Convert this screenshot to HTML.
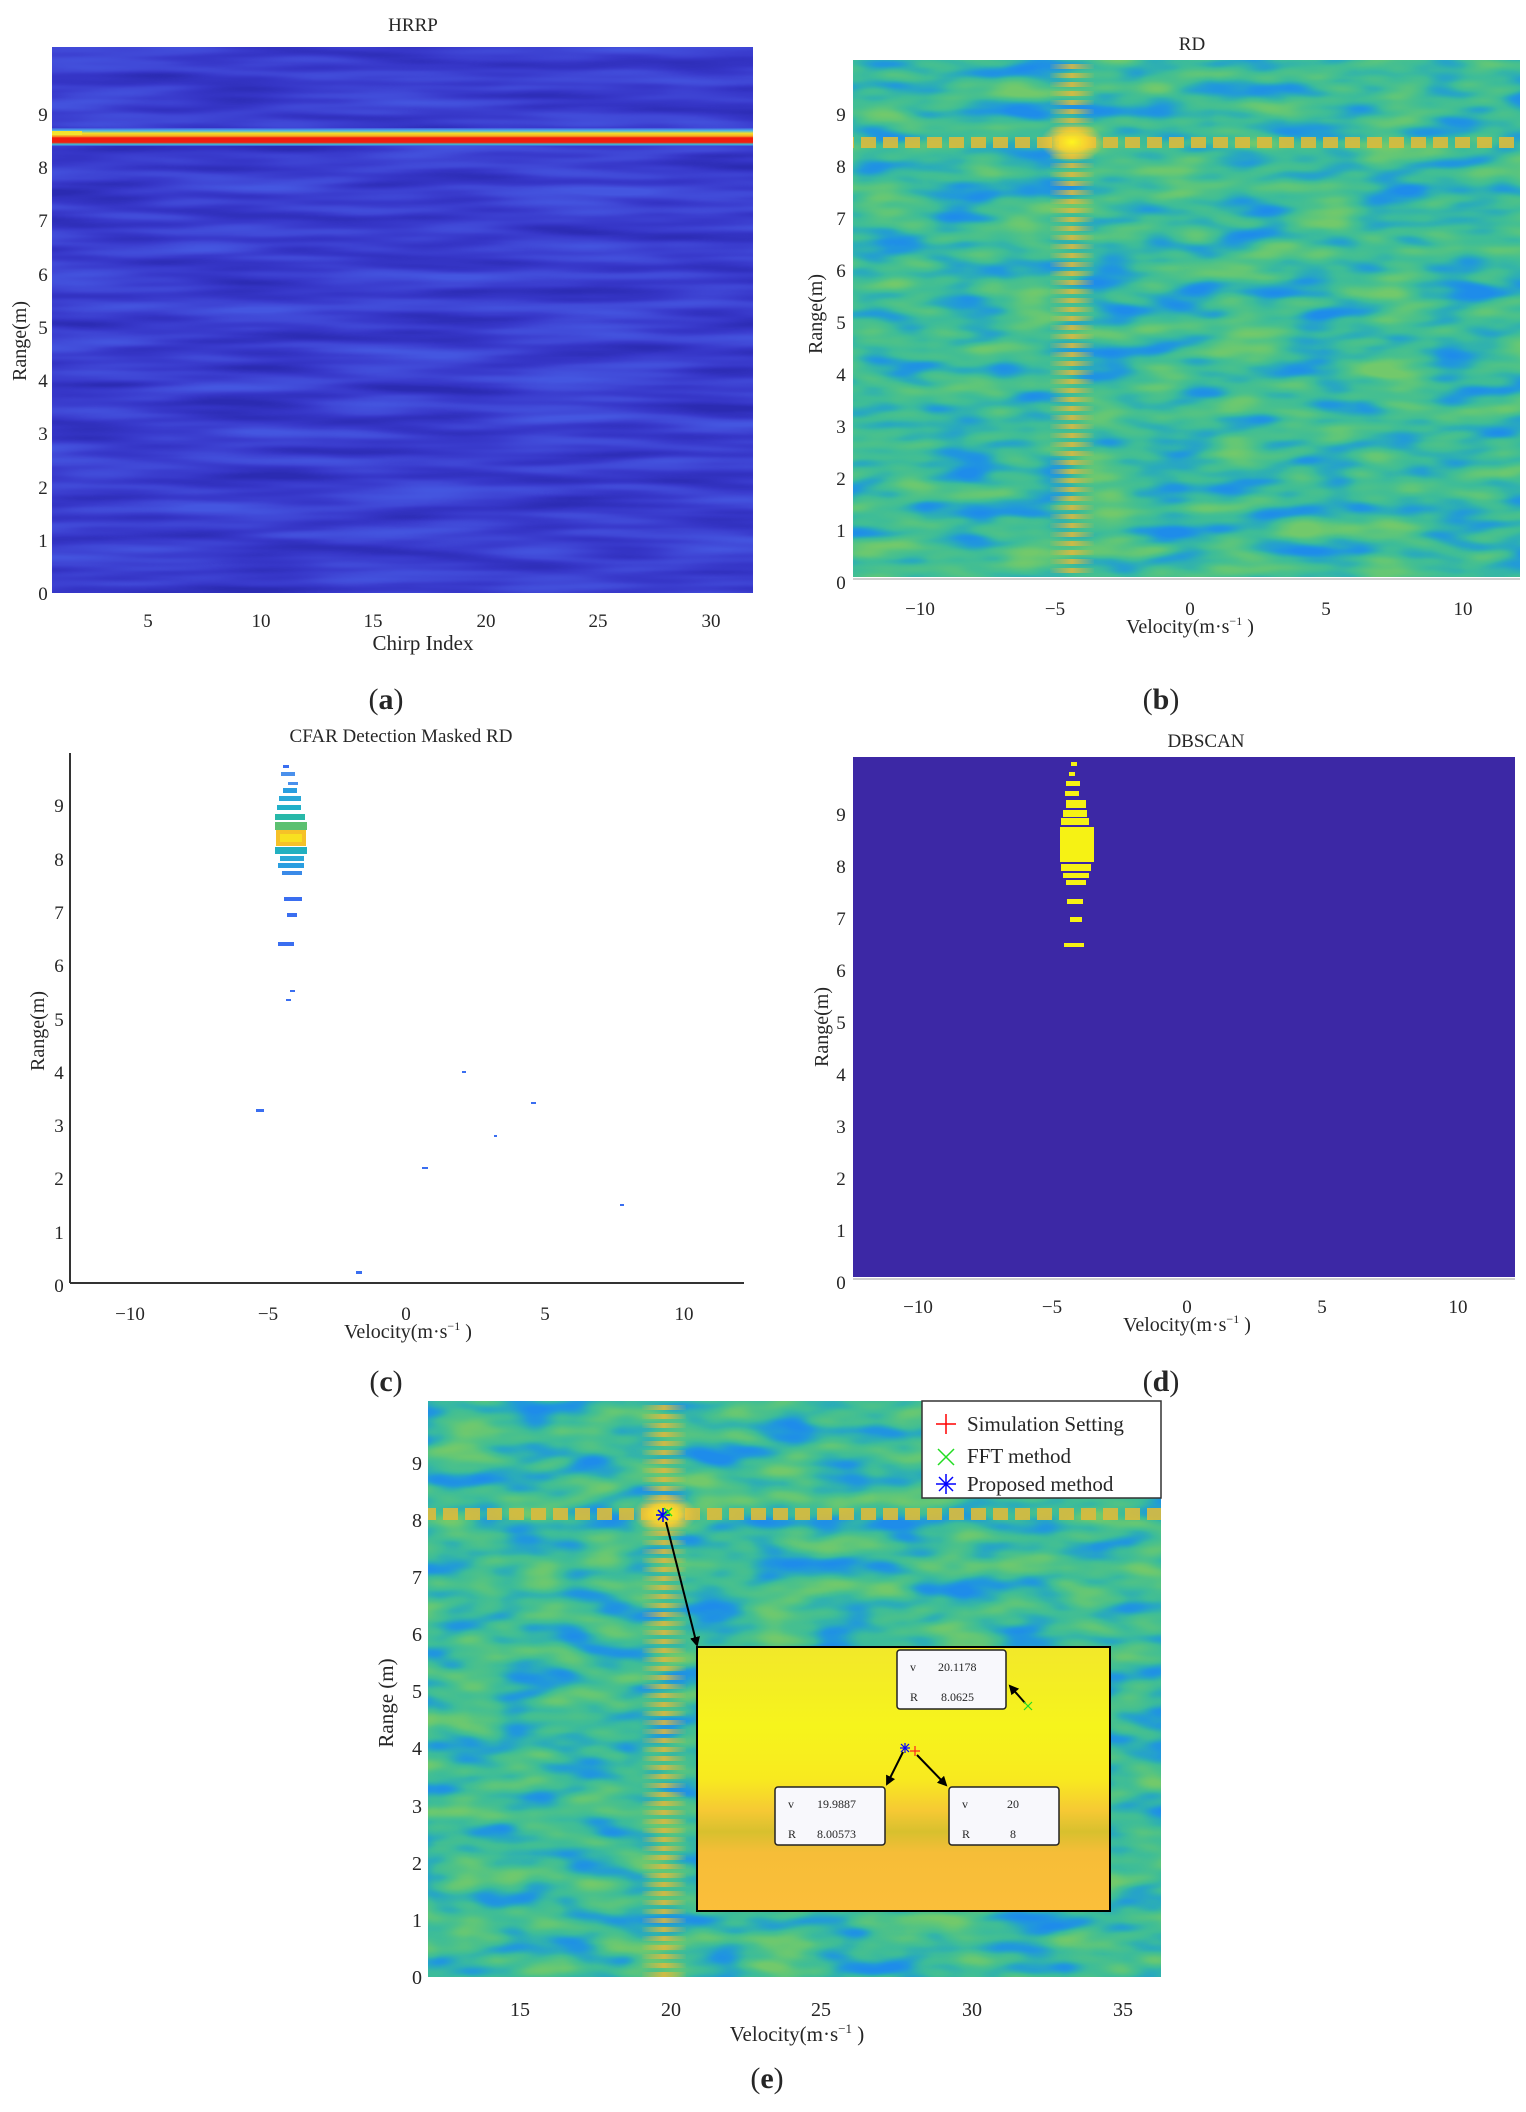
<!DOCTYPE html>
<html><head><meta charset="utf-8"><style>
html,body{margin:0;padding:0;background:#fff;}
svg{display:block;}
text{font-family:"Liberation Serif",serif;fill:#262626;}
</style></head><body>
<svg width="1526" height="2112" viewBox="0 0 1526 2112" xmlns="http://www.w3.org/2000/svg">
<defs>
<filter id="rdn" x="0" y="0" width="100%" height="100%" color-interpolation-filters="sRGB">
<feTurbulence type="fractalNoise" baseFrequency="0.014 0.05" numOctaves="2" seed="4"/>
<feColorMatrix type="matrix" values="1 0 0 0 0 1 0 0 0 0 1 0 0 0 0 0 0 0 0 1"/>
<feComponentTransfer>
<feFuncR type="table" tableValues="0.12 0.12 0.12 0.13 0.17 0.24 0.30 0.38 0.45 0.45 0.45"/>
<feFuncG type="table" tableValues="0.55 0.55 0.55 0.60 0.68 0.74 0.76 0.78 0.79 0.79 0.79"/>
<feFuncB type="table" tableValues="0.92 0.92 0.92 0.86 0.72 0.60 0.54 0.47 0.42 0.42 0.42"/>
</feComponentTransfer>
</filter>
<filter id="rdn2" x="0" y="0" width="100%" height="100%" color-interpolation-filters="sRGB">
<feTurbulence type="fractalNoise" baseFrequency="0.016 0.045" numOctaves="2" seed="11"/>
<feColorMatrix type="matrix" values="1 0 0 0 0 1 0 0 0 0 1 0 0 0 0 0 0 0 0 1"/>
<feComponentTransfer>
<feFuncR type="table" tableValues="0.12 0.12 0.12 0.13 0.17 0.24 0.30 0.38 0.45 0.45 0.45"/>
<feFuncG type="table" tableValues="0.55 0.55 0.55 0.60 0.68 0.74 0.76 0.78 0.79 0.79 0.79"/>
<feFuncB type="table" tableValues="0.92 0.92 0.92 0.86 0.72 0.60 0.54 0.47 0.42 0.42 0.42"/>
</feComponentTransfer>
</filter>
<filter id="hrn" x="0" y="0" width="100%" height="100%" color-interpolation-filters="sRGB">
<feTurbulence type="fractalNoise" baseFrequency="0.006 0.07" numOctaves="2" seed="7"/>
<feColorMatrix type="matrix" values="1 0 0 0 0 1 0 0 0 0 1 0 0 0 0 0 0 0 0 1"/>
<feComponentTransfer>
<feFuncR type="table" tableValues="0.17 0.17 0.17 0.19 0.21 0.23 0.25 0.26 0.27 0.27 0.27"/>
<feFuncG type="table" tableValues="0.17 0.17 0.17 0.19 0.21 0.24 0.28 0.31 0.34 0.34 0.34"/>
<feFuncB type="table" tableValues="0.70 0.70 0.70 0.74 0.78 0.81 0.84 0.86 0.88 0.88 0.88"/>
</feComponentTransfer>
</filter>
<pattern id="vstripe" width="10" height="9" patternUnits="userSpaceOnUse"><rect x="0" y="1" width="10" height="5" fill="#e3b93c"/></pattern>
<pattern id="hdash" width="22" height="10" patternUnits="userSpaceOnUse"><rect x="3" y="0" width="15" height="10" fill="#dcbb3c"/></pattern>
<linearGradient id="colfade" x1="0" y1="0" x2="1" y2="0">
<stop offset="0" stop-color="#fff" stop-opacity="0"/><stop offset="0.5" stop-color="#fff" stop-opacity="1"/><stop offset="1" stop-color="#fff" stop-opacity="0"/></linearGradient>
<mask id="colmaskb" maskUnits="userSpaceOnUse"><rect x="1048" y="60" width="48" height="520" fill="url(#colfade)"/></mask>
<mask id="colmaske" maskUnits="userSpaceOnUse"><rect x="640" y="1401" width="48" height="580" fill="url(#colfade)"/></mask>
<radialGradient id="glow"><stop offset="0" stop-color="#fff51e"/><stop offset="0.5" stop-color="#f8d030" stop-opacity="0.9"/><stop offset="1" stop-color="#f0c03a" stop-opacity="0"/></radialGradient>
<linearGradient id="insetg" x1="0" y1="0" x2="0" y2="1">
<stop offset="0" stop-color="#f2e82a"/><stop offset="0.3" stop-color="#f6f41c"/><stop offset="0.5" stop-color="#f8ea1f"/><stop offset="0.62" stop-color="#f6c934"/><stop offset="0.7" stop-color="#d8c02e"/><stop offset="0.78" stop-color="#f6bd38"/><stop offset="1" stop-color="#fbbf3a"/></linearGradient>
<linearGradient id="hband" x1="0" y1="0" x2="0" y2="1">
<stop offset="0" stop-color="#3f55dd"/><stop offset="0.15" stop-color="#4fb8e6"/><stop offset="0.3" stop-color="#f5e025"/><stop offset="0.45" stop-color="#f6a623"/><stop offset="0.55" stop-color="#f21a0e"/><stop offset="0.8" stop-color="#f0200f"/><stop offset="0.9" stop-color="#3fc0d0"/><stop offset="1" stop-color="#3f55dd"/></linearGradient>
<marker id="arr" markerWidth="10" markerHeight="10" refX="8" refY="5" orient="auto" markerUnits="userSpaceOnUse"><path d="M0,0 L10,5 L0,10 Z" fill="#000"/></marker>
</defs>

<!-- (a) HRRP -->
<rect x="52" y="47" width="701" height="546" filter="url(#hrn)"/>
<rect x="52" y="128" width="701" height="18" fill="url(#hband)"/>
<rect x="52" y="131" width="30" height="4" fill="#f4e42c"/>
<text x="413" y="31" font-size="19" text-anchor="middle">HRRP</text>
<g font-size="19" text-anchor="middle">
<text x="43" y="600">0</text><text x="43" y="547">1</text><text x="43" y="494">2</text><text x="43" y="440">3</text><text x="43" y="387">4</text><text x="43" y="334">5</text><text x="43" y="281">6</text><text x="43" y="227">7</text><text x="43" y="174">8</text><text x="43" y="121">9</text>
<text x="148" y="627">5</text><text x="261" y="627">10</text><text x="373" y="627">15</text><text x="486" y="627">20</text><text x="598" y="627">25</text><text x="711" y="627">30</text>
</g>
<text x="423" y="650" font-size="21" text-anchor="middle">Chirp Index</text>
<text transform="translate(26,341) rotate(-90)" font-size="20" text-anchor="middle">Range(m)</text>
<text x="386" y="709" font-size="30" text-anchor="middle">(<tspan font-weight="bold">a</tspan>)</text>

<!-- (b) RD -->
<rect x="853" y="60" width="667" height="517" filter="url(#rdn)"/>
<rect x="1050" y="60" width="44" height="517" fill="url(#vstripe)" mask="url(#colmaskb)" opacity="0.85"/>
<rect x="853" y="137" width="667" height="11" fill="url(#hdash)" opacity="0.9"/>
<ellipse cx="1072" cy="142" rx="32" ry="20" fill="url(#glow)"/>
<line x1="853" y1="579" x2="1520" y2="579" stroke="#cfcfcf" stroke-width="2"/>
<text x="1192" y="50" font-size="19" text-anchor="middle">RD</text>
<g font-size="19" text-anchor="middle">
<text x="841" y="589">0</text><text x="841" y="537">1</text><text x="841" y="485">2</text><text x="841" y="433">3</text><text x="841" y="381">4</text><text x="841" y="329">5</text><text x="841" y="277">6</text><text x="841" y="225">7</text><text x="841" y="173">8</text><text x="841" y="121">9</text>
<text x="920" y="615">−10</text><text x="1055" y="615">−5</text><text x="1190" y="615">0</text><text x="1326" y="615">5</text><text x="1463" y="615">10</text>
</g>
<text x="1190" y="633" font-size="20" text-anchor="middle">Velocity(m·s<tspan font-size="12" dy="-8">−1</tspan><tspan dy="8"> )</tspan></text>
<text transform="translate(822,314) rotate(-90)" font-size="20" text-anchor="middle">Range(m)</text>
<text x="1161" y="709" font-size="30" text-anchor="middle">(<tspan font-weight="bold">b</tspan>)</text>

<!-- (c) CFAR -->
<line x1="70" y1="753" x2="70" y2="1283" stroke="#333" stroke-width="2"/>
<line x1="70" y1="1283" x2="744" y2="1283" stroke="#333" stroke-width="2"/>
<g fill="#3a6ef0">
<rect x="283" y="765" width="6" height="3"/>
<rect x="281" y="772" width="14" height="4" fill="#4a90ec"/>
<rect x="288" y="782" width="10" height="3" fill="#4a90ec"/>
<rect x="283" y="788" width="14" height="5" fill="#2a9ee0"/>
<rect x="279" y="796" width="22" height="5" fill="#2aa8d8"/>
<rect x="277" y="805" width="24" height="5" fill="#22b0c8"/>
<rect x="275" y="814" width="30" height="6" fill="#28b8a8"/>
<rect x="275" y="822" width="32" height="8" fill="#5cc070"/>
<rect x="276" y="830" width="30" height="16" fill="#f6c128"/>
<rect x="280" y="834" width="22" height="8" fill="#f8e020"/>
<rect x="275" y="847" width="32" height="7" fill="#22b0c0"/>
<rect x="280" y="856" width="24" height="5" fill="#2aa8d8"/>
<rect x="278" y="863" width="26" height="5" fill="#2a9ee0"/>
<rect x="282" y="871" width="20" height="4" fill="#3a8ae8"/>
<rect x="284" y="897" width="18" height="4"/>
<rect x="287" y="913" width="10" height="4"/>
<rect x="278" y="942" width="16" height="4"/>
<rect x="290" y="990" width="5" height="2"/>
<rect x="286" y="999" width="5" height="2"/>
<rect x="256" y="1109" width="8" height="3"/>
<rect x="462" y="1071" width="4" height="2"/>
<rect x="531" y="1102" width="5" height="2"/>
<rect x="494" y="1135" width="3" height="2"/>
<rect x="422" y="1167" width="6" height="2"/>
<rect x="620" y="1204" width="4" height="2"/>
<rect x="356" y="1271" width="6" height="3"/>
</g>
<text x="401" y="742" font-size="19" text-anchor="middle">CFAR Detection Masked RD</text>
<g font-size="19" text-anchor="middle">
<text x="59" y="1292">0</text><text x="59" y="1239">1</text><text x="59" y="1185">2</text><text x="59" y="1132">3</text><text x="59" y="1079">4</text><text x="59" y="1026">5</text><text x="59" y="972">6</text><text x="59" y="919">7</text><text x="59" y="866">8</text><text x="59" y="812">9</text>
<text x="130" y="1320">−10</text><text x="268" y="1320">−5</text><text x="406" y="1320">0</text><text x="545" y="1320">5</text><text x="684" y="1320">10</text>
</g>
<text x="408" y="1338" font-size="20" text-anchor="middle">Velocity(m·s<tspan font-size="12" dy="-8">−1</tspan><tspan dy="8"> )</tspan></text>
<text transform="translate(44,1031) rotate(-90)" font-size="20" text-anchor="middle">Range(m)</text>
<text x="386" y="1391" font-size="30" text-anchor="middle">(<tspan font-weight="bold">c</tspan>)</text>

<!-- (d) DBSCAN -->
<rect x="853" y="757" width="662" height="520" fill="#3c28a5"/>
<line x1="853" y1="1279" x2="1515" y2="1279" stroke="#cfcfcf" stroke-width="2"/>
<g fill="#f6f214">
<rect x="1071" y="762" width="6" height="4"/>
<rect x="1069" y="772" width="6" height="4"/>
<rect x="1066" y="781" width="14" height="5"/>
<rect x="1065" y="791" width="14" height="5"/>
<rect x="1066" y="800" width="20" height="8"/>
<rect x="1063" y="810" width="24" height="7"/>
<rect x="1061" y="818" width="28" height="7"/>
<rect x="1060" y="827" width="34" height="35"/>
<rect x="1061" y="864" width="30" height="7"/>
<rect x="1063" y="873" width="26" height="5"/>
<rect x="1066" y="880" width="20" height="5"/>
<rect x="1067" y="899" width="16" height="5"/>
<rect x="1070" y="917" width="12" height="5"/>
<rect x="1064" y="943" width="20" height="4"/>
</g>
<text x="1206" y="747" font-size="19" text-anchor="middle">DBSCAN</text>
<g font-size="19" text-anchor="middle">
<text x="841" y="1289">0</text><text x="841" y="1237">1</text><text x="841" y="1185">2</text><text x="841" y="1133">3</text><text x="841" y="1081">4</text><text x="841" y="1029">5</text><text x="841" y="977">6</text><text x="841" y="925">7</text><text x="841" y="873">8</text><text x="841" y="821">9</text>
<text x="918" y="1313">−10</text><text x="1052" y="1313">−5</text><text x="1187" y="1313">0</text><text x="1322" y="1313">5</text><text x="1458" y="1313">10</text>
</g>
<text x="1187" y="1331" font-size="20" text-anchor="middle">Velocity(m·s<tspan font-size="12" dy="-8">−1</tspan><tspan dy="8"> )</tspan></text>
<text transform="translate(828,1027) rotate(-90)" font-size="20" text-anchor="middle">Range(m)</text>
<text x="1161" y="1391" font-size="30" text-anchor="middle">(<tspan font-weight="bold">d</tspan>)</text>

<!-- (e) -->
<rect x="428" y="1401" width="733" height="576" filter="url(#rdn2)"/>
<rect x="642" y="1401" width="44" height="576" fill="url(#vstripe)" mask="url(#colmaske)" opacity="0.85"/>
<rect x="428" y="1508" width="733" height="12" fill="url(#hdash)" opacity="0.9"/>
<ellipse cx="665" cy="1514" rx="32" ry="20" fill="url(#glow)"/>
<line x1="666" y1="1522" x2="697" y2="1645" stroke="#000" stroke-width="2" marker-end="url(#arr)"/>
<g stroke="#0000ff" stroke-width="1.6"><line x1="656" y1="1515" x2="670" y2="1515"/><line x1="663" y1="1508" x2="663" y2="1522"/><line x1="658" y1="1510" x2="668" y2="1520"/><line x1="668" y1="1510" x2="658" y2="1520"/></g>
<g stroke="#22dd22" stroke-width="1.5"><line x1="664" y1="1508" x2="672" y2="1516"/><line x1="672" y1="1508" x2="664" y2="1516"/></g>
<!-- inset -->
<rect x="697" y="1647" width="413" height="264" fill="url(#insetg)" stroke="#000" stroke-width="2"/>
<rect x="897" y="1650" width="109" height="59" rx="3" fill="#f8f8fc" stroke="#222" stroke-width="1.5"/>
<rect x="775" y="1787" width="110" height="58" rx="3" fill="#f8f8fc" stroke="#222" stroke-width="1.5"/>
<rect x="949" y="1787" width="110" height="58" rx="3" fill="#f8f8fc" stroke="#222" stroke-width="1.5"/>
<g font-size="12">
<text x="910" y="1671" fill="#555">v</text><text x="938" y="1671" fill="#1a8cff">20.1178</text>
<text x="910" y="1701" fill="#555">R</text><text x="941" y="1701" fill="#1a8cff">8.0625</text>
<text x="788" y="1808" fill="#555">v</text><text x="817" y="1808" fill="#1a8cff">19.9887</text>
<text x="788" y="1838" fill="#555">R</text><text x="817" y="1838" fill="#1a8cff">8.00573</text>
<text x="962" y="1808" fill="#555">v</text><text x="1007" y="1808" fill="#1a8cff">20</text>
<text x="962" y="1838" fill="#555">R</text><text x="1010" y="1838" fill="#1a8cff">8</text>
</g>
<line x1="1025" y1="1703" x2="1010" y2="1686" stroke="#000" stroke-width="2" marker-end="url(#arr)"/>
<line x1="903" y1="1752" x2="887" y2="1784" stroke="#000" stroke-width="2" marker-end="url(#arr)"/>
<line x1="917" y1="1755" x2="946" y2="1785" stroke="#000" stroke-width="2" marker-end="url(#arr)"/>
<g stroke="#0000ff" stroke-width="1.2"><line x1="900" y1="1748" x2="910" y2="1748"/><line x1="905" y1="1743" x2="905" y2="1753"/><line x1="901" y1="1744" x2="909" y2="1752"/><line x1="909" y1="1744" x2="901" y2="1752"/></g>
<g stroke="#ff2020" stroke-width="1.2"><line x1="910" y1="1751" x2="920" y2="1751"/><line x1="915" y1="1746" x2="915" y2="1756"/></g>
<g stroke="#22dd22" stroke-width="1.2"><line x1="1024" y1="1702" x2="1032" y2="1710"/><line x1="1032" y1="1702" x2="1024" y2="1710"/></g>
<!-- legend -->
<rect x="922" y="1401" width="239" height="97" fill="#fff" stroke="#333" stroke-width="1.5"/>
<g stroke="#ff0000" stroke-width="1.5"><line x1="936" y1="1424" x2="956" y2="1424"/><line x1="946" y1="1414" x2="946" y2="1434"/></g>
<g stroke="#22dd22" stroke-width="1.5"><line x1="938" y1="1449" x2="954" y2="1465"/><line x1="954" y1="1449" x2="938" y2="1465"/></g>
<g stroke="#0000ff" stroke-width="1.5"><line x1="936" y1="1484" x2="956" y2="1484"/><line x1="946" y1="1474" x2="946" y2="1494"/><line x1="939" y1="1477" x2="953" y2="1491"/><line x1="953" y1="1477" x2="939" y2="1491"/></g>
<g font-size="21">
<text x="967" y="1431">Simulation Setting</text>
<text x="967" y="1463">FFT method</text>
<text x="967" y="1491">Proposed method</text>
</g>
<g font-size="20" text-anchor="middle">
<text x="417" y="1984">0</text><text x="417" y="1927">1</text><text x="417" y="1870">2</text><text x="417" y="1813">3</text><text x="417" y="1755">4</text><text x="417" y="1698">5</text><text x="417" y="1641">6</text><text x="417" y="1584">7</text><text x="417" y="1527">8</text><text x="417" y="1470">9</text>
<text x="520" y="2016">15</text><text x="671" y="2016">20</text><text x="821" y="2016">25</text><text x="972" y="2016">30</text><text x="1123" y="2016">35</text>
</g>
<text x="797" y="2041" font-size="21" text-anchor="middle">Velocity(m·s<tspan font-size="13" dy="-8">−1</tspan><tspan dy="8"> )</tspan></text>
<text transform="translate(393,1703) rotate(-90)" font-size="21" text-anchor="middle">Range (m)</text>
<text x="767" y="2088" font-size="30" text-anchor="middle">(<tspan font-weight="bold">e</tspan>)</text>
</svg>
</body></html>
